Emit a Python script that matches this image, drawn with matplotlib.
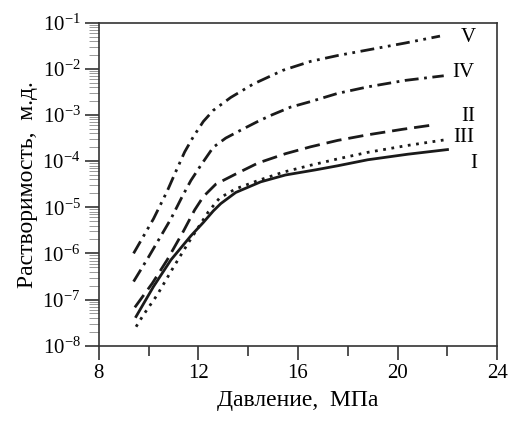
import matplotlib
matplotlib.use('Agg')
import matplotlib.pyplot as plt
from matplotlib.ticker import FixedLocator, LogLocator, NullFormatter

plt.rcParams['font.family'] = ['Liberation Serif', 'DejaVu Serif']
plt.rcParams['mathtext.fontset'] = 'stix'
plt.rcParams['lines.scale_dashes'] = False

# pressure, MPa / solubility, mole fraction
p1 = [9.5, 10.2, 10.9, 11.7, 12.2, 12.6, 12.9, 13.5, 14.5, 15.5, 16.7, 17.6, 18.8, 20.4, 22.0]
s1 = [4.27e-8, 1.91e-7, 7.24e-7, 2.40e-6, 4.68e-6, 8.32e-6, 1.20e-5, 2.09e-5, 3.55e-5,
      5.01e-5, 6.46e-5, 7.94e-5, 1.07e-4, 1.41e-4, 1.78e-4]

p2 = [9.45, 10.15, 10.75, 11.4, 11.85, 12.2, 12.7, 13.5, 14.4, 15.5, 16.5, 17.6, 18.8, 20.2, 21.5]
s2 = [6.76e-8, 2.24e-7, 7.24e-7, 3.02e-6, 8.71e-6, 1.70e-5, 3.16e-5, 5.25e-5, 9.12e-5,
      1.45e-4, 2.04e-4, 2.82e-4, 3.72e-4, 4.90e-4, 6.17e-4]

p3 = [9.5, 9.8, 10.35, 11.0, 11.6, 12.1, 12.4, 12.85, 13.5, 14.4, 15.4, 16.5, 17.6, 18.8, 20.4, 22.0]
s3 = [2.57e-8, 4.68e-8, 1.26e-7, 5.01e-7, 1.70e-6, 4.47e-6, 7.94e-6, 1.58e-5, 2.51e-5,
      3.80e-5, 5.75e-5, 8.13e-5, 1.12e-4, 1.55e-4, 2.19e-4, 2.95e-4]

p4 = [9.4, 10.0, 10.5, 10.9, 11.35, 11.7, 12.1, 12.6, 13.1, 13.7, 14.35, 14.9, 15.7, 16.5,
      17.6, 18.8, 20.3, 21.85]
s4 = [2.45e-7, 8.32e-7, 2.40e-6, 5.62e-6, 1.70e-5, 3.80e-5, 8.13e-5, 2.00e-4, 3.16e-4,
      4.68e-4, 7.08e-4, 9.77e-4, 1.48e-3, 1.95e-3, 2.95e-3, 4.07e-3, 5.62e-3, 7.08e-3]

p5 = [9.4, 10.2, 10.75, 11.1, 11.45, 11.8, 12.2, 12.6, 13.3, 14.2, 15.4, 16.5, 17.6, 18.8, 20.3, 21.7]
s5 = [1.0e-6, 5.62e-6, 2.24e-5, 6.03e-5, 1.58e-4, 3.39e-4, 7.24e-4, 1.26e-3, 2.40e-3,
      4.68e-3, 9.33e-3, 1.45e-2, 1.95e-2, 2.57e-2, 3.63e-2, 5.13e-2]

labels = ['V', 'IV', 'II', 'III', 'I']
label_x = [22.85, 22.65, 22.85, 22.65, 23.05]
label_y = [4.9e-2, 8.5e-3, 9.1e-4, 3.3e-4, 9.1e-5]

fig = plt.figure(figsize=(5.13, 4.21), dpi=100)
ax = fig.add_axes([0.1924, 0.179, 0.777, 0.767])

style = dict(color='#1a1a1a', lw=2.0, solid_joinstyle='round', dash_joinstyle='round')
ax.plot(p1, s1, **style)
ax.plot(p2, s2, dashes=(11, 5), **style)
ax.plot(p3, s3, dashes=(2, 4), **style)
ax.plot(p4, s4, dashes=(10, 4, 2, 4), **style)
ax.plot(p5, s5, dashes=(10, 4, 2, 4, 2, 4), **style)

for t, x, y in zip(labels, label_x, label_y):
    ax.text(x, y, t, fontsize=15, ha='center', va='center')

ax.set_yscale('log')
ax.set_xlim(8, 24)
ax.set_ylim(1e-8, 1e-1)
ax.xaxis.set_major_locator(FixedLocator([8, 12, 16, 20, 24]))
ax.xaxis.set_minor_locator(FixedLocator([10, 14, 18, 22]))
ax.yaxis.set_major_locator(LogLocator(base=10, numticks=20))
ax.yaxis.set_minor_locator(LogLocator(base=10, subs=range(2, 10), numticks=20))
ax.yaxis.set_minor_formatter(NullFormatter())

ax.tick_params(axis='both', which='major', direction='out', length=10, width=1.2,
               labelsize=15, color='#333333', pad=3)
ax.tick_params(axis='y', which='minor', direction='out', length=7, width=0.6, color='#888888')
ax.tick_params(axis='x', which='minor', direction='out', length=7, width=1.2, color='#333333')
for s in ax.spines.values():
    s.set_linewidth(1.2)
    s.set_color('#333333')

ax.set_xlabel('Давление,  МПа', fontsize=17, labelpad=5)
ax.set_ylabel('Растворимость,  м.д.', fontsize=17, labelpad=3)

fig.savefig('out.png', dpi=100)
